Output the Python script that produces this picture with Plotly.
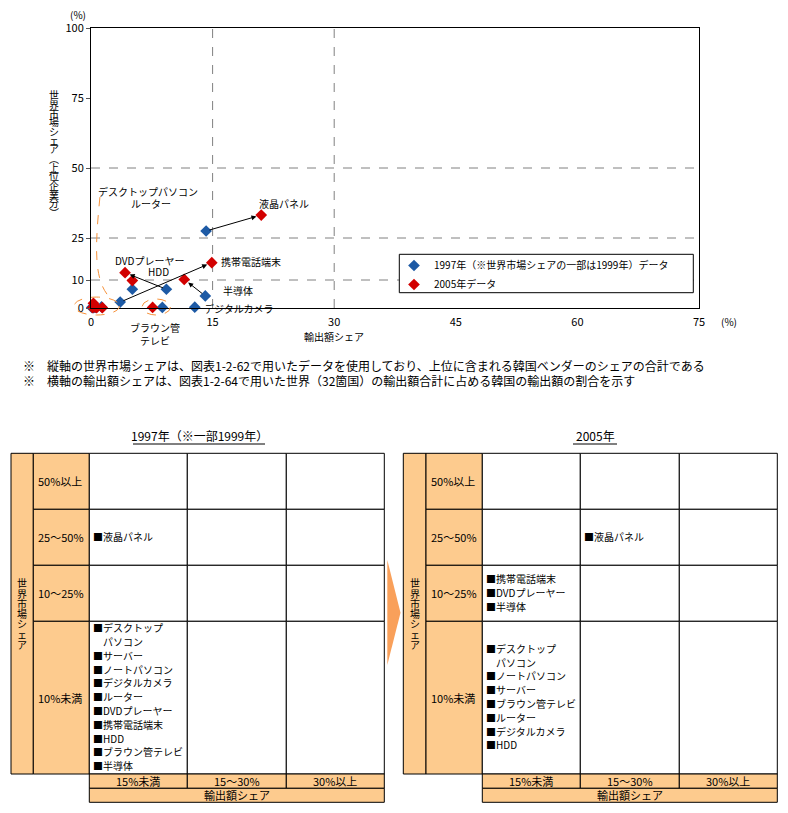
import plotly.graph_objects as go

# ---------------- data ----------------
products = ["液晶パネル", "携帯電話端末", "DVDプレーヤー", "HDD", "半導体", "デジタルカメラ",
            "ブラウン管テレビ", "デスクトップパソコン", "ルーター", "ノートパソコン", "サーバー"]
export_share_1997 = [14.2, 3.6, 9.3, 5.1, 14.1, 12.8, 8.8, 0.1, 0.5, 1.3, 0.3]
market_share_1997 = [27.5, 2.1, 6.7, 6.7, 4.3, 0.3, 0.2, 0.2, 0.2, 0.4, 0.1]
export_share_2005 = [21.0, 14.9, 4.2, 5.1, 11.5, 0.7, 7.6, 0.3, 1.4, 0.5, 0.2]
market_share_2005 = [33.2, 16.2, 12.6, 9.8, 10.2, 0.1, 0.2, 1.7, 0.1, 0.3, 0.1]
arrow_products = ["液晶パネル", "携帯電話端末", "DVDプレーヤー", "半導体"]

series_names = ["1997年（※世界市場シェアの一部は1999年）データ", "2005年データ"]
x_ticks = [0, 15, 30, 45, 60, 75]
y_ticks = [0, 10, 25, 50, 75, 100]
grid_x = [15, 30]
grid_y = [10, 25, 50]
x_title = "輸出額シェア"
y_title = "世界市場シェア︵上位企業分︶"
unit = "(%)"

notes = [
    "※　縦軸の世界市場シェアは、図表1-2-62で用いたデータを使用しており、上位に含まれる韓国ベンダーのシェアの合計である",
    "※　横軸の輸出額シェアは、図表1-2-64で用いた世界（32箇国）の輸出額合計に占める韓国の輸出額の割合を示す",
]

row_labels = ["50%以上", "25～50%", "10～25%", "10%未満"]
col_labels = ["15%未満", "15～30%", "30%以上"]
table_row_title = "世界市場シェア"
table_col_title = "輸出額シェア"
table_titles = ["1997年（※一部1999年）", "2005年"]
cells_1997 = {
    (1, 0): ["■液晶パネル"],
    (3, 0): ["■デスクトップ", "　パソコン", "■サーバー", "■ノートパソコン", "■デジタルカメラ",
             "■ルーター", "■DVDプレーヤー", "■携帯電話端末", "■HDD", "■ブラウン管テレビ", "■半導体"],
}
cells_2005 = {
    (1, 1): ["■液晶パネル"],
    (2, 0): ["■携帯電話端末", "■DVDプレーヤー", "■半導体"],
    (3, 0): ["■デスクトップ", "　パソコン", "■ノートパソコン", "■サーバー", "■ブラウン管テレビ",
             "■ルーター", "■デジタルカメラ", "■HDD"],
}

# ---------------- layout helpers ----------------
W, H = 788, 813
FONT = "Noto Sans CJK JP"
BLUE = "#1D5AA5"
RED = "#D20000"
ORANGE_DASH = "#F7923A"
HEAD_FILL = "#FDCB8E"
CHEVRON = "#F9A05A"
GRID = "#808080"

X_RANGE = [0, 75]
Y_RANGE = [0, 100]


def px(x):
    return x / W


def py(y):
    return 1 - y / H


def xd(v):
    return (v - X_RANGE[0]) / (X_RANGE[1] - X_RANGE[0])


def yd(v):
    return (v - Y_RANGE[0]) / (Y_RANGE[1] - Y_RANGE[0])


fig = go.Figure()
fig.add_trace(go.Scatter(
    x=export_share_1997, y=market_share_1997, mode="markers", name=series_names[0],
    text=products, marker=dict(symbol="diamond", size=9, color=BLUE), cliponaxis=False))
fig.add_trace(go.Scatter(
    x=export_share_2005, y=market_share_2005, mode="markers", name=series_names[1],
    text=products, marker=dict(symbol="diamond", size=9, color=RED), cliponaxis=False))

shapes = []
annotations = []


def note(x, y, s, size=10, xanchor="center", xref="paper", yref="paper"):
    annotations.append(dict(x=x, y=y, xref=xref, yref=yref, text=s, showarrow=False,
                            xanchor=xanchor, yanchor="middle", font=dict(size=size, color="black")))


# dashed reference lines
for gx in grid_x:
    shapes.append(dict(type="line", xref="x", yref="y domain", x0=gx, x1=gx, y0=0, y1=1,
                       line=dict(color=GRID, width=1, dash="dash"), layer="below"))
for gy in grid_y:
    shapes.append(dict(type="line", xref="x domain", yref="y", x0=0, x1=1, y0=gy, y1=gy,
                       line=dict(color=GRID, width=1, dash="dash"), layer="below"))

# arrows 1997 -> 2005
for p in arrow_products:
    i = products.index(p)
    annotations.append(dict(
        x=export_share_2005[i], y=market_share_2005[i],
        ax=export_share_1997[i], ay=market_share_1997[i],
        xref="x", yref="y", axref="x", ayref="y", text="", showarrow=True,
        arrowhead=2, arrowsize=1, arrowwidth=1, arrowcolor="black", standoff=5, startstandoff=2))

# point labels (data-space anchor positions)
point_labels = [
    ("デスクトップパソコン", 7.0, 41.5, "center"),
    ("ルーター", 7.4, 37.4, "center"),
    ("液晶パネル", 23.8, 37.4, "center"),
    ("携帯電話端末", 15.8, 16.5, "left"),
    ("DVDプレーヤー", 7.2, 17.1, "center"),
    ("HDD", 8.3, 13.0, "center"),
    ("半導体", 16.0, 6.4, "left"),
    ("デジタルカメラ", 13.7, -0.1, "left"),
    ("ブラウン管<br>テレビ", 7.9, -9.3, "center"),
]
for txt, lx, ly, anc in point_labels:
    note(xd(lx), yd(ly), txt, size=10, xanchor=anc, xref="x domain", yref="y domain")

# orange dashed ellipses and connector
ellipses = [(-2.1, -2.5, 3.5, 3.9), (6.3, -2.5, 9.8, 3.2)]
for x0, y0, x1, y1 in ellipses:
    shapes.append(dict(type="circle", xref="x domain", yref="y domain",
                       x0=xd(x0), y0=yd(y0), x1=xd(x1), y1=yd(y1),
                       line=dict(color=ORANGE_DASH, width=1, dash="dash")))
curve = [(1.1, 39.6), (0.5, 22.0), (0.3, 10.0), (2.3, 3.8)]
path = "M {},{} C {},{} {},{} {},{}".format(*[v for pt in curve for v in (xd(pt[0]), yd(pt[1]))])
shapes.append(dict(type="path", xref="x domain", yref="y domain", path=path,
                   line=dict(color=ORANGE_DASH, width=1, dash="dash")))

# axis units and titles
note(px(78), py(15), unit)
note(px(729), py(321), unit)
note(xd(30), py(337), x_title, xref="x domain")
for k, ch in enumerate(y_title):
    note(px(54), py(95 + 9.0 * k), ch)

# legend border
shapes.append(dict(type="rect", xref="paper", yref="paper", x0=px(399.3), x1=px(693.3),
                   y0=py(254.3), y1=py(292.7), line=dict(color="black", width=1),
                   fillcolor="white", layer="below"))

# notes
for k, s in enumerate(notes):
    note(px(21), py(365 + 15 * k), s, size=12, xanchor="left")

# ---------------- tables ----------------
ROW_EDGES = [453.3, 509.3, 565.3, 621.3, 774.0]
FOOT_EDGES = [774.0, 788.3, 802.3]
TABLE_X = [
    [11.0, 33.3, 89.3, 187.3, 286.3, 384.3],
    [403.3, 426.0, 482.3, 580.3, 679.3, 777.3],
]
TITLE_Y = 436
TITLE_CX = [199, 595]
TITLE_W = [132, 44]


def rect(x0, x1, y0, y1, fill):
    shapes.append(dict(type="rect", xref="paper", yref="paper", x0=px(x0), x1=px(x1),
                       y0=py(y1), y1=py(y0), line=dict(color="black", width=1), fillcolor=fill))


def text(x, y, s, size=11, anchor="center"):
    note(px(x), py(y), s, size=size, xanchor=anchor)


for t, (xe, cells) in enumerate(zip(TABLE_X, [cells_1997, cells_2005])):
    text(TITLE_CX[t], TITLE_Y, table_titles[t], size=12)
    shapes.append(dict(type="line", xref="paper", yref="paper",
                       x0=px(TITLE_CX[t] - TITLE_W[t] / 2), x1=px(TITLE_CX[t] + TITLE_W[t] / 2),
                       y0=py(444), y1=py(444), line=dict(color="black", width=1)))
    rect(xe[0], xe[1], ROW_EDGES[0], ROW_EDGES[-1], HEAD_FILL)
    ymid = (ROW_EDGES[0] + ROW_EDGES[-1]) / 2
    n = len(table_row_title)
    for k, ch in enumerate(table_row_title):
        text((xe[0] + xe[1]) / 2, ymid + (k - (n - 1) / 2) * 10.3, ch, size=10)
    for r in range(len(row_labels)):
        y0, y1 = ROW_EDGES[r], ROW_EDGES[r + 1]
        rect(xe[1], xe[2], y0, y1, HEAD_FILL)
        text(xe[1] + 3, (y0 + y1) / 2, row_labels[r], size=11, anchor="left")
        for c in range(len(col_labels)):
            rect(xe[2 + c], xe[3 + c], y0, y1, "white")
            lines = cells.get((r, c))
            if lines:
                m = len(lines)
                step = 13.8
                for j, line in enumerate(lines):
                    text(xe[2 + c] + 2, (y0 + y1) / 2 - 1 + (j - (m - 1) / 2) * step, line,
                         size=10, anchor="left")
    for c in range(len(col_labels)):
        rect(xe[2 + c], xe[3 + c], FOOT_EDGES[0], FOOT_EDGES[1], HEAD_FILL)
        text((xe[2 + c] + xe[3 + c]) / 2, (FOOT_EDGES[0] + FOOT_EDGES[1]) / 2, col_labels[c], size=11)
    rect(xe[2], xe[-1], FOOT_EDGES[1], FOOT_EDGES[2], HEAD_FILL)
    text((xe[2] + xe[-1]) / 2, (FOOT_EDGES[1] + FOOT_EDGES[2]) / 2, table_col_title, size=11)

# chevron between tables
shapes.append(dict(type="path", xref="paper", yref="paper",
                   path="M {},{} L {},{} L {},{} Z".format(px(387.3), py(560), px(400.5), py(612.7),
                                                         px(387.3), py(665)),
                   fillcolor=CHEVRON, line=dict(width=0)))

fig.update_layout(
    width=W, height=H, autosize=False,
    margin=dict(l=0, r=0, t=0, b=0, autoexpand=False),
    paper_bgcolor="white", plot_bgcolor="white",
    font=dict(family=FONT, size=11, color="black"),
    showlegend=True,
    legend=dict(x=px(394), y=py(251), xanchor="left", yanchor="top", bgcolor="rgba(0,0,0,0)",
                borderwidth=0, font=dict(size=10), itemclick=False, itemdoubleclick=False),
    xaxis=dict(domain=[px(91), px(699)], range=X_RANGE, tickvals=x_ticks, showgrid=False,
               zeroline=False, showline=True, linecolor="black", linewidth=1, mirror=True,
               ticks="", ticklabelstandoff=4, tickfont=dict(size=11), fixedrange=True,
               automargin=False),
    yaxis=dict(domain=[py(308), py(28)], range=Y_RANGE, tickvals=y_ticks, showgrid=False,
               zeroline=False, showline=True, linecolor="black", linewidth=1, mirror=True,
               ticks="outside", ticklen=4, tickcolor="#555555", tickfont=dict(size=11),
               fixedrange=True, automargin=False),
    shapes=shapes,
    annotations=annotations,
)

fig.write_html("out.html", config={"displayModeBar": False},
               post_script="document.body.style.margin='0';document.body.style.overflow='hidden';")
